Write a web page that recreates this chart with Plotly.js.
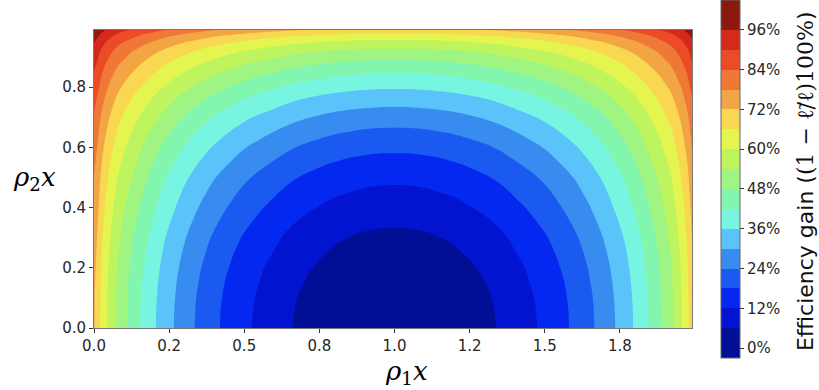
<!DOCTYPE html>
<html>
<head>
<meta charset="utf-8">
<script src="https://cdn.plot.ly/plotly-3.0.1.min.js"></script>
<style>
html,body{margin:0;padding:0;background:#ffffff;}
#chart{width:819px;height:390px;}
</style>
</head>
<body>
<div id="chart"></div>
<script>
// rho1x grid (x) and rho2x grid (y)
const rho1x = [0, 0.01, 0.025, 0.05, 0.08, 0.12, 0.17, 0.23, 0.3, 0.35, 0.4, 0.45, 0.5, 0.55, 0.6, 0.65, 0.7, 0.8, 0.9, 1.0,
               1.1, 1.2, 1.3, 1.35, 1.4, 1.45, 1.5, 1.55, 1.6, 1.65, 1.7, 1.77, 1.83, 1.88, 1.92, 1.95, 1.975, 1.99, 2.0];
const rho2x = [0, 0.1, 0.2, 0.3, 0.4, 0.45, 0.5, 0.55, 0.6, 0.65, 0.7, 0.77, 0.83, 0.88, 0.92, 0.95, 0.97, 0.99];

// efficiency gain (fraction), one row per rho2x value
const gainAtY000 = [0.725,0.700,0.646,0.583,0.522,0.464,0.400,0.333,0.268,0.228,0.192,0.161,0.132,0.108,0.086,0.064,0.047,0.021,0.005,0.000,0.005,0.021,0.047,0.064,0.086,0.108,0.132,0.161,0.192,0.228,0.268,0.333,0.400,0.464,0.522,0.583,0.646,0.700,0.725];
const gainAtY010 = [0.727,0.702,0.648,0.586,0.525,0.467,0.403,0.337,0.272,0.232,0.196,0.165,0.137,0.113,0.091,0.069,0.052,0.026,0.010,0.005,0.010,0.026,0.052,0.069,0.091,0.113,0.137,0.165,0.196,0.232,0.272,0.337,0.403,0.467,0.525,0.586,0.648,0.702,0.727];
const gainAtY020 = [0.734,0.709,0.656,0.594,0.534,0.477,0.414,0.348,0.284,0.245,0.210,0.179,0.151,0.127,0.106,0.084,0.067,0.042,0.026,0.021,0.026,0.042,0.067,0.084,0.106,0.127,0.151,0.179,0.210,0.245,0.284,0.348,0.414,0.477,0.534,0.594,0.656,0.709,0.734];
const gainAtY030 = [0.744,0.720,0.668,0.608,0.549,0.493,0.432,0.367,0.305,0.266,0.232,0.202,0.174,0.151,0.130,0.109,0.092,0.067,0.052,0.047,0.052,0.067,0.092,0.109,0.130,0.151,0.174,0.202,0.232,0.266,0.305,0.367,0.432,0.493,0.549,0.608,0.668,0.720,0.744];
const gainAtY040 = [0.760,0.737,0.686,0.628,0.571,0.517,0.458,0.396,0.335,0.298,0.264,0.236,0.209,0.186,0.166,0.145,0.130,0.106,0.091,0.086,0.091,0.106,0.130,0.145,0.166,0.186,0.209,0.236,0.264,0.298,0.335,0.396,0.458,0.517,0.571,0.628,0.686,0.737,0.760];
const gainAtY045 = [0.769,0.746,0.697,0.639,0.584,0.531,0.473,0.411,0.352,0.316,0.283,0.255,0.228,0.206,0.186,0.166,0.151,0.127,0.113,0.108,0.113,0.127,0.151,0.166,0.186,0.206,0.228,0.255,0.283,0.316,0.352,0.411,0.473,0.531,0.584,0.639,0.697,0.746,0.769];
const gainAtY050 = [0.779,0.756,0.708,0.652,0.598,0.546,0.489,0.429,0.371,0.335,0.303,0.276,0.250,0.228,0.209,0.189,0.174,0.151,0.136,0.132,0.136,0.151,0.174,0.189,0.209,0.228,0.250,0.276,0.303,0.335,0.371,0.429,0.489,0.546,0.598,0.652,0.708,0.756,0.779];
const gainAtY055 = [0.790,0.769,0.722,0.667,0.614,0.564,0.508,0.450,0.394,0.359,0.328,0.301,0.276,0.255,0.236,0.217,0.202,0.179,0.165,0.161,0.165,0.179,0.202,0.217,0.236,0.255,0.276,0.301,0.328,0.359,0.394,0.450,0.508,0.564,0.614,0.667,0.722,0.769,0.790];
const gainAtY060 = [0.803,0.782,0.736,0.683,0.632,0.583,0.529,0.473,0.418,0.384,0.354,0.328,0.303,0.283,0.264,0.246,0.232,0.210,0.196,0.192,0.196,0.210,0.232,0.246,0.264,0.283,0.303,0.328,0.354,0.384,0.418,0.473,0.529,0.583,0.632,0.683,0.736,0.782,0.803];
const gainAtY065 = [0.817,0.797,0.753,0.702,0.652,0.605,0.553,0.499,0.446,0.413,0.384,0.359,0.335,0.316,0.298,0.280,0.266,0.245,0.232,0.228,0.232,0.245,0.266,0.280,0.298,0.316,0.335,0.359,0.384,0.413,0.446,0.499,0.553,0.605,0.652,0.702,0.753,0.797,0.817];
const gainAtY070 = [0.834,0.814,0.772,0.723,0.675,0.630,0.580,0.528,0.477,0.446,0.418,0.394,0.371,0.352,0.335,0.318,0.305,0.284,0.272,0.268,0.272,0.284,0.305,0.318,0.335,0.352,0.371,0.394,0.418,0.446,0.477,0.528,0.580,0.630,0.675,0.723,0.772,0.814,0.834];
const gainAtY077 = [0.860,0.842,0.803,0.757,0.712,0.670,0.624,0.575,0.528,0.499,0.473,0.450,0.429,0.411,0.396,0.380,0.367,0.348,0.337,0.333,0.337,0.348,0.367,0.380,0.396,0.411,0.429,0.450,0.473,0.499,0.528,0.575,0.624,0.670,0.712,0.757,0.803,0.842,0.860];
const gainAtY083 = [0.887,0.870,0.834,0.792,0.751,0.712,0.669,0.624,0.580,0.553,0.529,0.508,0.489,0.473,0.458,0.443,0.432,0.414,0.403,0.400,0.403,0.414,0.432,0.443,0.458,0.473,0.489,0.508,0.529,0.553,0.580,0.624,0.669,0.712,0.751,0.792,0.834,0.870,0.887];
const gainAtY088 = [0.913,0.898,0.864,0.825,0.787,0.751,0.712,0.670,0.630,0.605,0.583,0.564,0.546,0.531,0.517,0.504,0.493,0.477,0.467,0.464,0.467,0.477,0.493,0.504,0.517,0.531,0.546,0.564,0.583,0.605,0.630,0.670,0.712,0.751,0.787,0.825,0.864,0.898,0.913];
const gainAtY092 = [0.937,0.922,0.892,0.856,0.821,0.787,0.751,0.713,0.675,0.652,0.632,0.614,0.598,0.584,0.571,0.559,0.549,0.534,0.525,0.522,0.525,0.534,0.549,0.559,0.571,0.584,0.598,0.614,0.632,0.652,0.675,0.713,0.751,0.787,0.821,0.856,0.892,0.922,0.937];
const gainAtY095 = [0.961,0.948,0.920,0.887,0.855,0.825,0.792,0.757,0.723,0.702,0.683,0.667,0.652,0.639,0.628,0.616,0.608,0.594,0.586,0.583,0.586,0.594,0.608,0.616,0.628,0.639,0.652,0.667,0.683,0.702,0.723,0.757,0.792,0.825,0.855,0.887,0.920,0.948,0.961];
const gainAtY097 = [0.982,0.970,0.944,0.913,0.884,0.856,0.825,0.793,0.762,0.743,0.725,0.710,0.697,0.685,0.674,0.664,0.656,0.643,0.635,0.633,0.635,0.643,0.656,0.664,0.674,0.685,0.697,0.710,0.725,0.743,0.762,0.793,0.825,0.856,0.884,0.913,0.944,0.970,0.982];
const gainAtY099 = [1.009,0.998,0.975,0.948,0.922,0.898,0.870,0.842,0.814,0.797,0.782,0.769,0.756,0.746,0.737,0.727,0.720,0.709,0.702,0.700,0.702,0.709,0.720,0.727,0.737,0.746,0.756,0.769,0.782,0.797,0.814,0.842,0.870,0.898,0.922,0.948,0.975,0.998,1.009];

// contour band colours, lowest (0-6%) to highest (96-102%)
const bandColors = ['#010f96','#0214d0','#0428f0','#1a5af0','#388cf0','#5ac3fa','#78f5e1','#82f5af',
                    '#a0f582','#bef55f','#e4f550','#fad750','#f3a546','#f07837','#eb4b26','#d42a1e','#8c190f'];

// tick labels
const xTickVals = [0, 0.25, 0.5, 0.75, 1.0, 1.25, 1.5, 1.75];
const xTickText = ['0.0','0.2','0.5','0.8','1.0','1.2','1.5','1.8'];
const yTickVals = [0, 0.2, 0.4, 0.6, 0.8];
const yTickText = ['0.0','0.2','0.4','0.6','0.8'];
const cbTickVals = [0, 0.12, 0.24, 0.36, 0.48, 0.60, 0.72, 0.84, 0.96];
const cbTickText = ['0%','12%','24%','36%','48%','60%','72%','84%','96%'];

const zGrid = [gainAtY000, gainAtY010, gainAtY020, gainAtY030, gainAtY040, gainAtY045, gainAtY050, gainAtY055,
               gainAtY060, gainAtY065, gainAtY070, gainAtY077, gainAtY083, gainAtY088, gainAtY092, gainAtY095,
               gainAtY097, gainAtY099];

// stepped colour scale (robust to where the library samples each band)
const nParts = 18;
const colorscale = [[0, bandColors[0]]];
for (let k = 0; k < bandColors.length; k++) {
  const lo = (k + 0.75) / nParts;
  const hi = Math.min((k + 1.75) / nParts, 1);
  colorscale.push([lo, bandColors[k]]);
  colorscale.push([hi - 1e-6, bandColors[k]]);
}
colorscale.push([1, bandColors[bandColors.length - 1]]);

const tickFont = {family: 'DejaVu Sans, sans-serif', size: 15, color: '#262626'};

const trace = {
  type: 'contour',
  x: rho1x,
  y: rho2x,
  z: zGrid,
  autocontour: false,
  contours: {start: 0, end: 1.02, size: 0.06, coloring: 'fill', showlines: false},
  line: {width: 0, smoothing: 1.3},
  colorscale: colorscale,
  hoverinfo: 'skip',
  colorbar: {
    thickness: 19,
    len: 358, lenmode: 'pixels',
    x: 1.0485, xanchor: 'left', xpad: 0,
    y: 1.1007, yanchor: 'top', ypad: 0,
    outlinewidth: 1, outlinecolor: '#666666',
    tickmode: 'array', tickvals: cbTickVals, ticktext: cbTickText,
    ticks: 'outside', ticklen: 4, tickwidth: 1, tickcolor: '#333333',
    tickfont: tickFont
  }
};

const layout = {
  width: 819, height: 390,
  margin: {l: 94, r: 127, t: 30, b: 62, pad: 0, autoexpand: false},
  paper_bgcolor: '#ffffff', plot_bgcolor: '#ffffff',
  showlegend: false,
  xaxis: {
    range: [0, 1.99], showgrid: false, zeroline: false,
    showline: true, mirror: true, linecolor: '#777777', linewidth: 1,
    tickmode: 'array', tickvals: xTickVals, ticktext: xTickText,
    ticks: 'outside', ticklen: 4, tickwidth: 1, tickcolor: '#333333',
    tickfont: tickFont
  },
  yaxis: {
    range: [0, 0.99], showgrid: false, zeroline: false,
    showline: true, mirror: true, linecolor: '#777777', linewidth: 1,
    tickmode: 'array', tickvals: yTickVals, ticktext: yTickText,
    ticks: 'outside', ticklen: 4, tickwidth: 1, tickcolor: '#333333',
    tickfont: tickFont
  },
  annotations: [
    {text: '<i>ρ</i><sub>1</sub><i>x</i>', xref: 'paper', yref: 'paper', x: 0.5234, y: -0.1477,
     xanchor: 'center', yanchor: 'middle', showarrow: false,
     font: {family: 'DejaVu Serif, serif', size: 26, color: '#000000'}},
    {text: '<i>ρ</i><sub>2</sub><i>x</i>', xref: 'paper', yref: 'paper', x: -0.0987, y: 0.503,
     xanchor: 'center', yanchor: 'middle', showarrow: false,
     font: {family: 'DejaVu Serif, serif', size: 26, color: '#000000'}},
    {text: 'Efficiency gain (<span style="font-family:DejaVu Serif">(1 − ℓ̃/ℓ)100%</span>)',
     xref: 'paper', yref: 'paper', x: 1.189, y: 0.493, textangle: -90,
     xanchor: 'center', yanchor: 'middle', showarrow: false,
     font: {family: 'DejaVu Sans, sans-serif', size: 22, color: '#111111'}}
  ]
};

Plotly.newPlot('chart', [trace], layout, {staticPlot: true, displayModeBar: false});
</script>
</body>
</html>
